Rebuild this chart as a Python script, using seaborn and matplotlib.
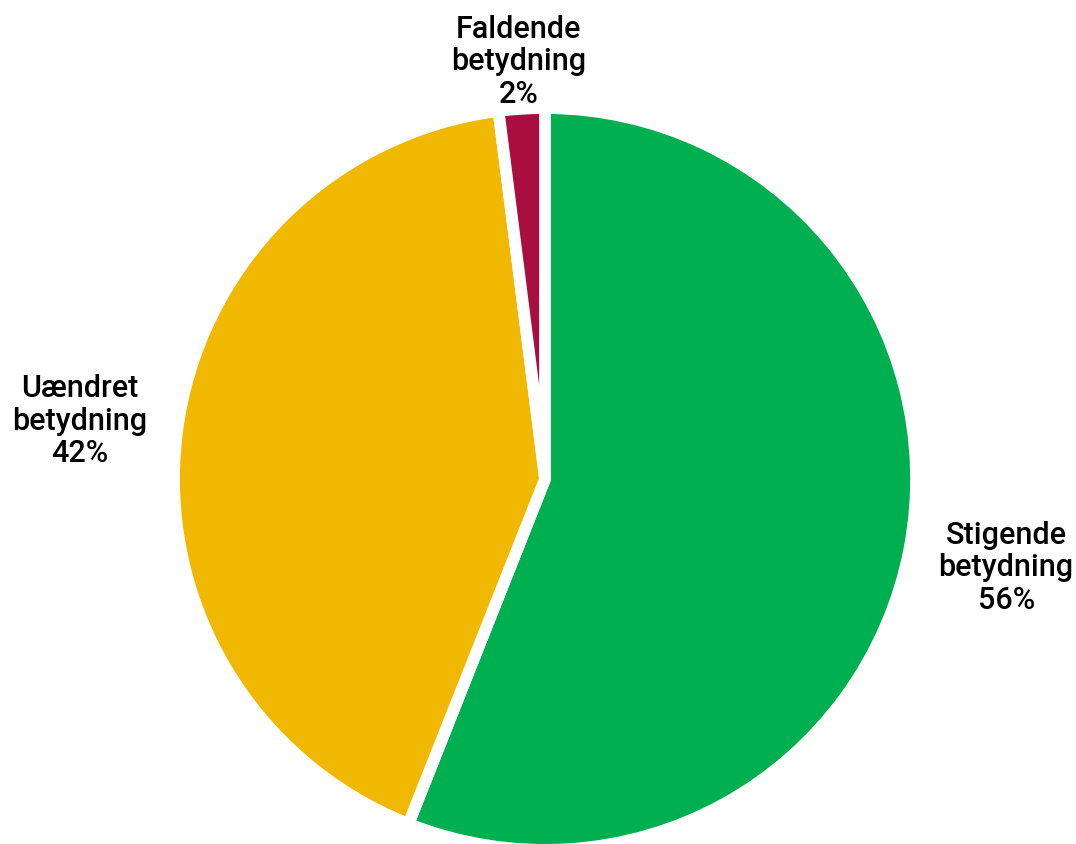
import matplotlib
matplotlib.use("Agg")
import matplotlib.pyplot as plt
import seaborn as sns
import numpy as np

categories = ["Stigende\nbetydning", "Uændret\nbetydning", "Faldende\nbetydning"]
shares = [56, 42, 2]
colors = ["#00AF50", "#F0B800", "#A80F40"]

sns.set_theme(style="white")
plt.rcParams["font.family"] = ["Roboto", "DejaVu Sans"]

fig = plt.figure(figsize=(10.76, 8.45), dpi=100)
ax = fig.add_axes([0, 0, 1, 1])

labels = [f"{c}\n{v}%" for c, v in zip(categories, shares)]
wedges, texts = ax.pie(
    shares,
    labels=labels,
    colors=colors,
    startangle=90,
    counterclock=False,
    labeldistance=1.265,
    wedgeprops=dict(edgecolor="white", linewidth=8.5),
    textprops=dict(fontsize=22, fontweight="medium", color="black",
                   ha="center", va="center",
                   multialignment="center", linespacing=1.15),
)

# pull the small slice's label closer to the rim
for w, t in zip(wedges, texts):
    t.set_horizontalalignment("center")
    if w.theta2 - w.theta1 < 20:
        ang = np.deg2rad((w.theta1 + w.theta2) / 2)
        t.set_position((1.13 * np.cos(ang), 1.13 * np.sin(ang)))

ax.set_xlim(-1.469, 1.431)
ax.set_ylim(-0.984, 1.294)
ax.set_aspect("auto")
ax.axis("off")

fig.savefig("out.png", dpi=100, facecolor="white")
